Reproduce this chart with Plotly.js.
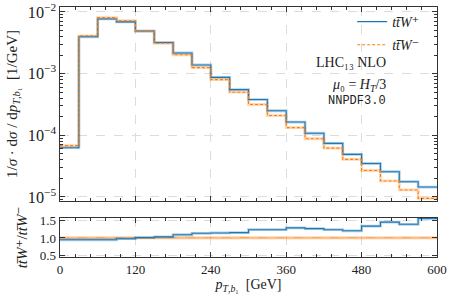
<!DOCTYPE html>
<html><head><meta charset="utf-8">
<script src="https://cdn.plot.ly/plotly-3.0.1.min.js"></script>
<style>body{margin:0;background:#fff}#c{width:454px;height:300px}</style>
</head><body><div id="c"></div>
<script>
// bin edges in GeV (30 GeV bins)
const binEdges = [0,30,60,90,120,150,180,210,240,270,300,330,360,390,420,450,480,510,540,570,600];
// normalized distributions 1/sigma dsigma/dpT [1/GeV]
const ttWplus  = [6.3e-5,3.95e-3,7.7e-3,6.9e-3,4.9e-3,3.2e-3,2.16e-3,1.38e-3,8.7e-4,5.5e-4,3.8e-4,2.5e-4,1.64e-4,1.08e-4,7.4e-5,4.9e-5,3.49e-5,2.57e-5,1.77e-5,1.45e-5];
const ttWminus = [6.8e-5,4.1e-3,8.1e-3,7.2e-3,4.9e-3,3.1e-3,2.02e-3,1.25e-3,8.0e-4,5.0e-4,3.16e-4,2.09e-4,1.33e-4,8.8e-5,6.2e-5,4.07e-5,2.69e-5,1.82e-5,1.3e-5,9.5e-6];
// ratios to ttW-
const ratioPlus  = [0.95,0.95,0.95,0.98,1.01,1.03,1.09,1.13,1.14,1.15,1.23,1.23,1.28,1.26,1.23,1.20,1.33,1.44,1.38,1.54];
const ratioMinus = [1,1,1,1,1,1,1,1,1,1,1,1,1,1,1,1,1,1,1,1];
const xTicks = [0,120,240,360,480,600];
const ratioTicks = [0.5,1.0,1.5];

const BLUE = '#1f77b4', ORANGE = '#ff7f0e';
const FONT = 'Liberation Serif, DejaVu Serif, serif';
function stepY(v){ return v.concat([v[v.length-1]]); }

const traces = [
  {x:binEdges, y:stepY(ttWplus), xaxis:'x2', yaxis:'y2', mode:'lines', line:{shape:'hv', color:'rgba(31,119,180,0.35)', width:2.8}, showlegend:false, hoverinfo:'skip'},
  {x:binEdges, y:stepY(ttWminus), xaxis:'x2', yaxis:'y2', mode:'lines', line:{shape:'hv', color:'rgba(255,127,14,0.3)', width:2.8}, showlegend:false, hoverinfo:'skip'},
  {x:binEdges, y:stepY(ttWplus), xaxis:'x2', yaxis:'y2', mode:'lines', name:'<i>tt̄W</i>⁺', legendgroup:'p', line:{shape:'hv', color:BLUE, width:1.1}},
  {x:binEdges, y:stepY(ttWminus), xaxis:'x2', yaxis:'y2', mode:'lines', name:'<i>tt̄W</i>⁻', legendgroup:'m', line:{shape:'hv', color:ORANGE, width:1.1, dash:'3px,2px'}},
  {x:binEdges, y:stepY(ratioMinus), xaxis:'x', yaxis:'y', mode:'lines', line:{shape:'hv', color:'rgba(255,127,14,0.5)', width:2.8}, showlegend:false},
  {x:binEdges, y:stepY(ratioPlus), xaxis:'x', yaxis:'y', mode:'lines', line:{shape:'hv', color:'rgba(31,119,180,0.35)', width:2.8}, showlegend:false},
  {x:binEdges, y:stepY(ratioPlus), xaxis:'x', yaxis:'y', mode:'lines', line:{shape:'hv', color:BLUE, width:1.1}, showlegend:false}
];

const axCommon = {
  showline:true, linecolor:'#333', linewidth:1.3, mirror:'allticks',
  ticks:'inside', ticklen:5, tickwidth:1, tickcolor:'#333',
  showgrid:true, gridcolor:'#dcdcdc', griddash:'dash', gridwidth:1,
  zeroline:false, tickfont:{family:FONT, size:13, color:'#222'}
};

const layout = {
  width:454, height:300, margin:{l:60, r:17, t:7, b:43, autoexpand:false},
  paper_bgcolor:'#fff', plot_bgcolor:'#fff',
  font:{family:FONT, size:13, color:'#222'},
  xaxis: Object.assign({}, axCommon, {domain:[0,1], anchor:'y', range:[0,600], tickvals:xTicks,
    minor:{dtick:24, tick0:0, ticks:'inside', ticklen:3, tickcolor:'#333', showgrid:false},
    title:{text:'<i>p</i><sub><i>T</i>,<i>b</i>₁</sub>  [GeV]', font:{family:FONT, size:14}, standoff:2}}),
  yaxis: Object.assign({}, axCommon, {domain:[0,0.156], anchor:'x', range:[0.47,1.556], tickvals:ratioTicks, tickformat:'.1f',
    title:{text:'<i>tt̄W</i>⁺/<i>tt̄W</i>⁻', font:{family:FONT, size:15}, standoff:8}}),
  xaxis2: Object.assign({}, axCommon, {domain:[0,1], anchor:'y2', range:[0,600], tickvals:xTicks, showticklabels:false, matches:'x',
    minor:{dtick:24, tick0:0, ticks:'inside', ticklen:3, tickcolor:'#333', showgrid:false}}),
  yaxis2: Object.assign({}, axCommon, {domain:[0.224,1], anchor:'x2', type:'log', range:[-5.065,-1.92], dtick:1, exponentformat:'power',
    minor:{dtick:'D1', ticks:'inside', ticklen:3, tickcolor:'#333', showgrid:false},
    title:{text:'1/<i>σ</i> · d<i>σ</i> / d<i>p</i><sub><i>T</i>,<i>b</i>₁</sub>  [1/GeV]', font:{family:FONT, size:15}, standoff:6}}),
  legend:{x:0.775, xanchor:'left', y:1.004, yanchor:'top', bgcolor:'rgba(0,0,0,0)', font:{family:FONT, size:14}, tracegroupgap:2},
  annotations:[
    {xref:'x2 domain', yref:'y2 domain', x:0.871, y:0.716, yanchor:'middle', text:'LHC₁₃ NLO', showarrow:false, font:{family:FONT, size:14}},
    {xref:'x2 domain', yref:'y2 domain', x:0.871, y:0.593, yanchor:'middle', text:'<i>μ</i>₀ = <i>H<sub>T</sub></i>/3', showarrow:false, font:{family:FONT, size:14}},
    {xref:'x2 domain', yref:'y2 domain', x:0.871, y:0.515, yanchor:'middle', text:'NNPDF3.0', showarrow:false, font:{family:'Liberation Mono, DejaVu Sans Mono, monospace', size:12}}
  ]
};

Plotly.newPlot('c', traces, layout, {displayModeBar:false, staticPlot:true});
</script>
</body></html>
